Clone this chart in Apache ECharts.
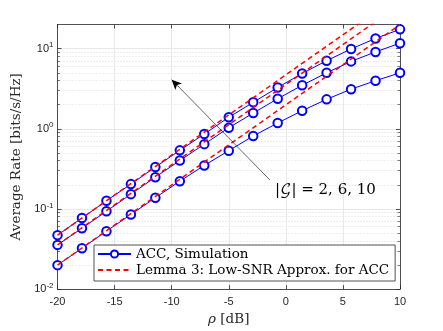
<!DOCTYPE html>
<html><head><meta charset="utf-8">
<script src="https://cdn.jsdelivr.net/npm/echarts@6/dist/echarts.min.js"></script>
<style>html,body{margin:0;padding:0;background:#fff}#c{width:443px;height:331px}</style>
</head><body><div id="c"></div>
<script>
// SNR grid (dB)
const rho = [-20, -17.857, -15.714, -13.571, -11.429, -9.286, -7.143, -5, -2.857, -0.714, 1.429, 3.571, 5.714, 7.857, 10];
// ACC simulation, |G| = 10, 6, 2
const simG10 = [0.0471, 0.0769, 0.1265, 0.204, 0.333, 0.538, 0.861, 1.39, 2.14, 3.27, 4.90, 7.06, 9.91, 13.4, 17.4];
const simG6  = [0.0356, 0.0574, 0.0936, 0.153, 0.249, 0.402, 0.643, 1.03, 1.57, 2.37, 3.49, 4.99, 6.93, 9.10, 11.7];
const simG2  = [0.0199, 0.0324, 0.0528, 0.0853, 0.138, 0.222, 0.349, 0.533, 0.813, 1.18, 1.68, 2.33, 3.12, 3.98, 4.99];
// Low-SNR approximation endpoints (straight lines on the log plot)
const approxRho = [-20, 10];
const approxG10 = [0.0471, 47.1];
const approxG6  = [0.0356, 35.6];
const approxG2  = [0.0199, 19.9];
// ticks
const xTickInterval = 5;
const yMajorTicks = [0.01, 0.1, 1, 10];
const yMinorTicks = [0.02,0.03,0.04,0.05,0.06,0.07,0.08,0.09,0.2,0.3,0.4,0.5,0.6,0.7,0.8,0.9,2,3,4,5,6,7,8,9];
// annotation
const arrowFrom = [-1.4, 0.23];
const arrowTo = [-10, 4.1];
const annText = '|\u{1D4A2}| = 2, 6, 10';

const simName = 'ACC, Simulation';
const apxName = 'Lemma 3: Low-SNR Approx. for ACC';
const zip = (xs, ys) => xs.map((x, i) => [x, ys[i]]);

const axisColor = '#262626';
const serif = "'DejaVu Serif', 'DejaVu Math TeX Gyre', serif";
const tickFont = {fontFamily: 'Liberation Sans', fontSize: 11, color: axisColor};

function simSeries(d) {
  return {type: 'line', name: simName, data: zip(rho, d), symbol: 'emptyCircle', symbolSize: 8.5,
    lineStyle: {color: '#0000ff', width: 1}, itemStyle: {color: '#0000ff', borderWidth: 0.9},
    showAllSymbol: true, animation: false, z: 3};
}
function apxSeries(d, extra) {
  return Object.assign({type: 'line', name: apxName, data: zip(approxRho, d), symbol: 'none',
    lineStyle: {color: '#ff0000', width: 1.5, type: [5, 3.5]}, itemStyle: {color: '#ff0000'},
    animation: false, z: 4}, extra || {});
}

const yBase = {type: 'log', logBase: 10, min: 0.01, max: 20, gridIndex: 0};
const chart = echarts.init(document.getElementById('c'), null, {renderer: 'canvas'});
chart.setOption({
  animation: false,
  backgroundColor: '#fff',
  grid: {left: 57.5, right: 43, top: 24.5, bottom: 37, containLabel: false},
  xAxis: [
    {type: 'value', min: -20, max: 10, interval: xTickInterval, position: 'bottom',
      axisLine: {show: true, onZero: false, lineStyle: {color: axisColor, width: 0.8}},
      axisTick: {show: true, inside: true, length: 4, lineStyle: {color: axisColor, width: 0.8}},
      axisLabel: Object.assign({margin: 7}, tickFont),
      splitLine: {show: true, lineStyle: {color: '#e2e2e2', width: 0.8}},
      name: '{i|ρ} [dB]', nameLocation: 'middle', nameGap: 22,
      nameTextStyle: {fontFamily: serif, fontSize: 13.5, color: axisColor,
        rich: {i: {fontFamily: serif, fontStyle: 'italic', fontSize: 13.5, color: axisColor}}}},
    {type: 'value', min: -20, max: 10, interval: xTickInterval, position: 'top',
      axisLine: {show: true, onZero: false, lineStyle: {color: axisColor, width: 0.8}},
      axisTick: {show: true, inside: true, length: 4, lineStyle: {color: axisColor, width: 0.8}},
      axisLabel: {show: false}, splitLine: {show: false}}
  ],
  yAxis: [
    Object.assign({}, yBase, {position: 'left',
      axisLine: {show: true, onZero: false, lineStyle: {color: axisColor, width: 0.8}},
      axisTick: {show: true, inside: true, length: 4, customValues: yMajorTicks, lineStyle: {color: axisColor, width: 0.8}},
      axisLabel: {show: true, customValues: yMajorTicks, margin: 4,
        formatter: v => '{b|10}{s|' + Math.round(Math.log10(v)) + '}',
        rich: {b: {fontFamily: 'Liberation Sans', fontSize: 11, color: axisColor},
               s: {fontFamily: 'Liberation Sans', fontSize: 8, color: axisColor, verticalAlign: 'bottom', padding: [0, 0, 7, 0]}}},
      splitLine: {show: true, lineStyle: {color: '#e2e2e2', width: 0.8}},
      name: 'Average Rate [bits/s/Hz]', nameLocation: 'middle', nameGap: 27,
      nameTextStyle: {fontFamily: serif, fontSize: 13.5, color: axisColor}}),
    Object.assign({}, yBase, {position: 'left',
      axisLine: {show: false, onZero: false},
      axisTick: {show: true, inside: true, length: 2.5, customValues: yMinorTicks, lineStyle: {color: axisColor, width: 0.6}},
      axisLabel: {show: false},
      splitLine: {show: true, lineStyle: {color: '#d4d4d4', width: 0.8, type: [1, 2]}}}),
    Object.assign({}, yBase, {position: 'right',
      axisLine: {show: true, onZero: false, lineStyle: {color: axisColor, width: 0.8}},
      axisTick: {show: true, inside: true, length: 4, customValues: yMajorTicks, lineStyle: {color: axisColor, width: 0.8}},
      axisLabel: {show: false}, splitLine: {show: false}}),
    Object.assign({}, yBase, {position: 'right',
      axisLine: {show: false, onZero: false},
      axisTick: {show: true, inside: true, length: 2.5, customValues: yMinorTicks, lineStyle: {color: axisColor, width: 0.6}},
      axisLabel: {show: false}, splitLine: {show: false}})
  ],
  legend: {
    data: [{name: simName}, {name: apxName, itemStyle: {opacity: 0}}],
    orient: 'vertical', left: 94, top: 245,
    padding: [2, 6, 4, 3], itemGap: 2, itemWidth: 33, itemHeight: 9,
    backgroundColor: '#fff', borderColor: axisColor, borderWidth: 0.8, borderRadius: 0,
    textStyle: {fontFamily: serif, fontSize: 13.5, color: '#000'}, selectedMode: false
  },
  series: [
    simSeries(simG10), simSeries(simG6), simSeries(simG2),
    apxSeries(approxG10, {
      markLine: {silent: true, symbol: ['none', 'arrow'], symbolSize: [7, 10], animation: false,
        label: {show: false}, lineStyle: {color: '#000', width: 0.6, type: 'solid'},
        data: [[{coord: arrowFrom}, {coord: arrowTo}]]}
    }),
    apxSeries(approxG6), apxSeries(approxG2)
  ],
  graphic: [{type: 'text', left: 275, top: 183, z: 10,
    style: {text: annText, fontFamily: serif, fontSize: 15, fill: '#000'}}]
});
</script></body></html>
